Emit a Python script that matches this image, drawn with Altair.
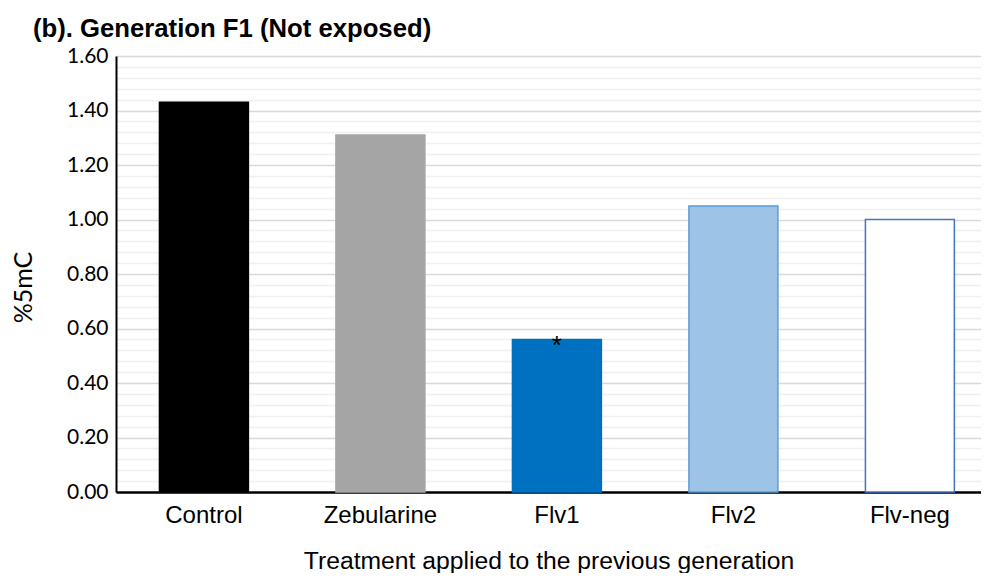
import altair as alt
import pandas as pd

categories = ["Control", "Zebularine", "Flv1", "Flv2", "Flv-neg"]
values = [1.43, 1.31, 0.56, 1.05, 1.00]
significance = ["", "", "*", "", ""]
fill_colors = ["#000000", "#a5a5a5", "#0070c0", "#9dc3e6", "#ffffff"]
stroke_colors = ["#000000", "#a5a5a5", "#0070c0", "#5b9bd5", "#4472c4"]
y_ticks = [round(i * 0.04, 2) for i in range(41)]

df = pd.DataFrame({"treatment": categories, "value": values, "sig": significance})

W, H = 865, 436

x_enc = alt.X(
    "treatment:N",
    sort=categories,
    scale=alt.Scale(paddingInner=0.496, paddingOuter=0.1985, align=0.62),
    axis=alt.Axis(
        title="Treatment applied to the previous generation",
        labelAngle=0,
        labelFont="Liberation Sans",
        labelFontSize=24,
        labelColor="#000000",
        labelPadding=11,
        ticks=False,
        tickSize=0,
        domainColor="#000000",
        domainWidth=2.5,
        grid=False,
        titleFont="Liberation Sans",
        titleFontSize=24.7,
        titleFontWeight="normal",
        titleColor="#000000",
        titleBaseline="alphabetic",
        titleY=76,
    ),
)

y_enc = alt.Y(
    "value:Q",
    scale=alt.Scale(domain=[0, 1.6], nice=False),
    axis=alt.Axis(
        title="%5mC",
        values=y_ticks,
        tickCount=len(y_ticks),
        labelExpr="abs(datum.value*5 - round(datum.value*5)) < 0.001 ? format(datum.value, '.2f') : ''",
        labelOverlap=False,
        labelFont="Lato",
        labelFontSize=21,
        labelFontWeight="normal",
        labelColor="#000000",
        labelPadding=8,
        ticks=False,
        tickSize=0,
        domainColor="#000000",
        domainWidth=2,
        grid=True,
        gridColor={
            "condition": {
                "test": "abs(datum.value*5 - round(datum.value*5)) < 0.001",
                "value": "#d9d9d9",
            },
            "value": "#f0f0f0",
        },
        gridWidth=1.5,
        titleFont="Lato",
        titleFontSize=25,
        titleFontWeight="normal",
        titleColor="#000000",
        titleAngle=-90,
        titleAlign="center",
        titleBaseline="middle",
        titleX=-93,
        titleY=231,
    ),
)

bars = alt.Chart(df).mark_bar(strokeWidth=1.5).encode(
    x=x_enc,
    y=y_enc,
    fill=alt.Fill("treatment:N", scale=alt.Scale(domain=categories, range=fill_colors), legend=None),
    stroke=alt.Stroke("treatment:N", scale=alt.Scale(domain=categories, range=stroke_colors), legend=None),
)

stars = alt.Chart(df).mark_text(
    font="Liberation Sans", fontSize=26, color="#000000", baseline="alphabetic", dy=15
).encode(
    x=alt.X("treatment:N", sort=categories),
    y=alt.Y("value:Q"),
    text="sig:N",
)

chart = alt.layer(bars, stars).properties(
    width=W,
    height=H,
    autosize=alt.AutoSizeParams(type="none"),
    padding={"left": 108, "top": 48, "right": 0, "bottom": 81},
    title=alt.TitleParams(
        "(b). Generation F1 (Not exposed)",
        anchor="start",
        frame="group",
        font="Liberation Sans",
        fontSize=25.7,
        fontWeight="bold",
        color="#000000",
        dx=-83,
        offset=2,
    ),
).configure_view(stroke=None)

chart.save("out.html", embed_options={"renderer": "svg", "actions": False})
